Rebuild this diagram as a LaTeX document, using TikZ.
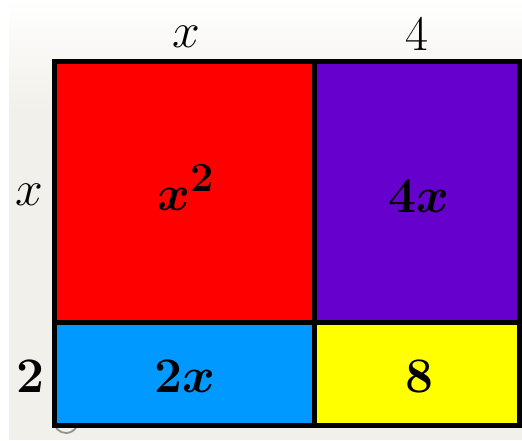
\documentclass[tikz,border=0pt]{standalone}
\usepackage{amsmath}
\definecolor{bg}{RGB}{241,240,234}
\definecolor{cred}{RGB}{255,0,0}
\definecolor{cpurple}{RGB}{102,0,204}
\definecolor{cblue}{RGB}{0,153,255}
\definecolor{cyellow}{RGB}{255,255,0}
\newcommand{\bigmth}[1]{\scalebox{2}{\fontsize{24.88}{28}\selectfont$#1$}}
\newcommand{\bigbmth}[1]{\scalebox{2}{\fontsize{24.88}{28}\selectfont\boldmath$#1$}}
\begin{document}
\begin{tikzpicture}[x=1pt,y=-1pt,
  lbl/.style={anchor=base,inner sep=0pt},
  cellline/.style={line width=5pt}]
\useasboundingbox (0,0) rectangle (522,440);
\fill[bg] (0,0) rectangle (522,440);
\shade[top color=white,bottom color=bg] (9,0) rectangle (522,110);
\fill[white] (0,0) rectangle (9,440);
% cells
\fill[cred] (54,61) rectangle (314,322);
\fill[cpurple] (314,61) rectangle (519,322);
\fill[cblue] (54,322) rectangle (314,425);
\fill[cyellow] (314,322) rectangle (519,425);
% gray arc below corner
\draw[gray!85,line width=1.8pt] (54,421) arc[start angle=180,end angle=25,radius=12];
\draw[cellline] (54,61) rectangle (519,425);
\draw[cellline] (314,61) -- (314,425);
\draw[cellline] (54,322) -- (519,322);
% labels
\node[lbl] (tx) at (186,47) {\bigmth{x}};
\node[lbl] (t4) at (417,50) {\bigmth{4}};
\node[lbl] (lx) at (29,205) {\bigmth{x}};
\node[lbl] (l2) at (30,392) {\bigbmth{\mathbf{2}}};
\node[lbl] (a) at (186,210) {\bigbmth{x^{\mathbf{2}}}};
\node[lbl] (b) at (419,212) {\bigbmth{\mathbf{4}x}};
\node[lbl] (c) at (185,392) {\bigbmth{\mathbf{2}x}};
\node[lbl] (d) at (419,392) {\bigbmth{\mathbf{8}}};
\end{tikzpicture}
\end{document}
